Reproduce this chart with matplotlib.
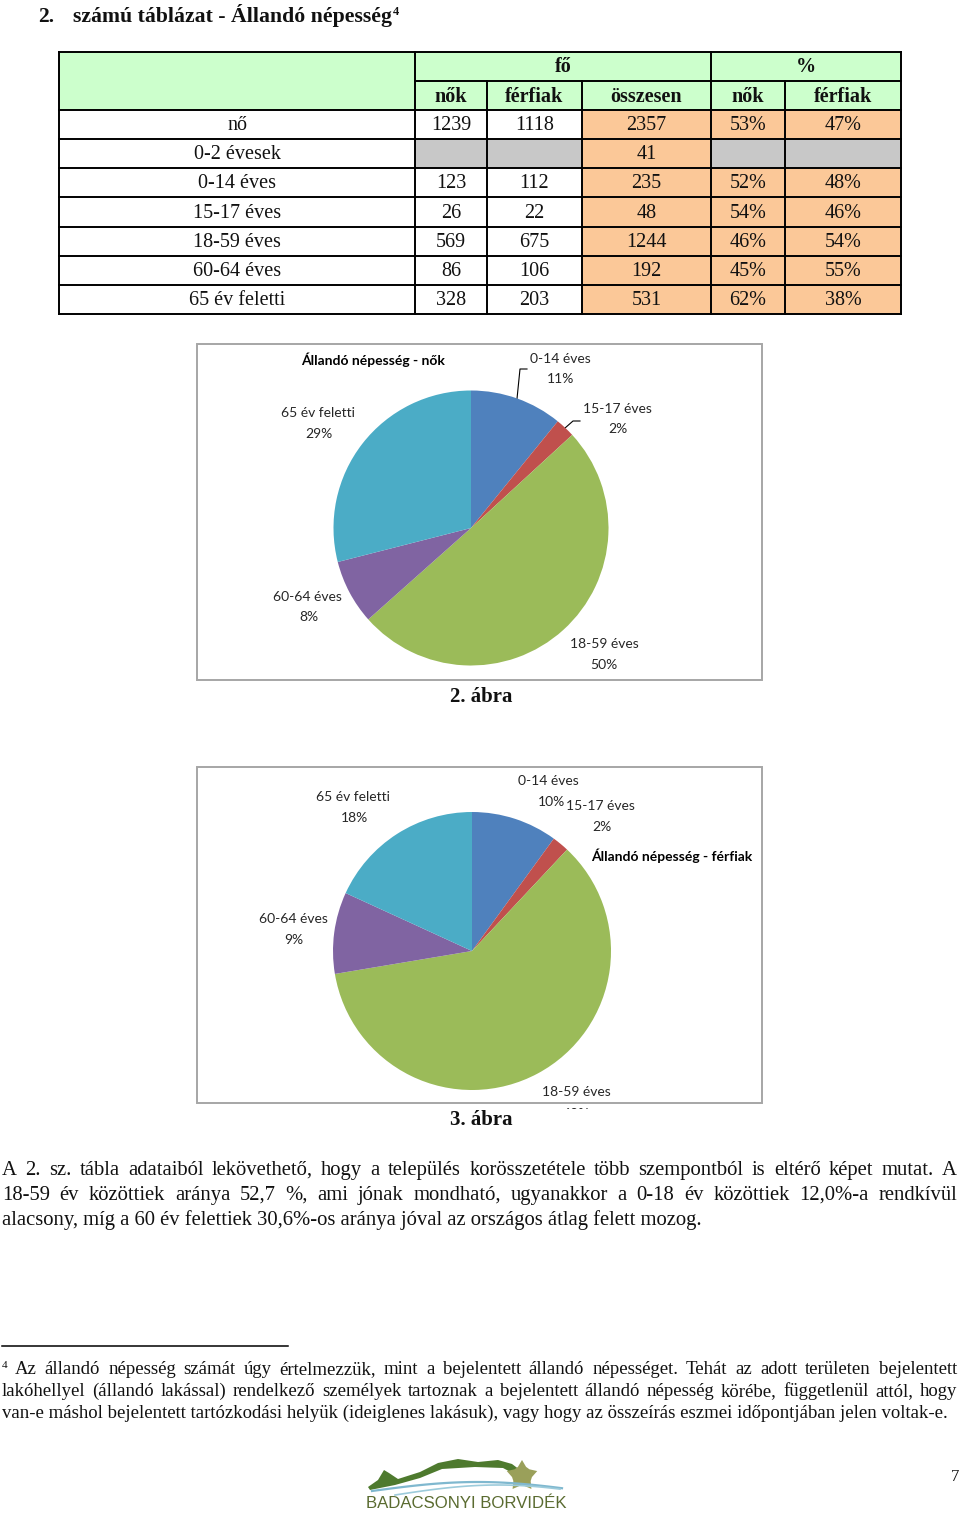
import matplotlib
matplotlib.use("Agg")
import matplotlib.pyplot as plt
from matplotlib.patches import Rectangle, Polygon
import numpy as np

# ---------------- data ----------------
categories = ['0-14 éves', '15-17 éves', '18-59 éves', '60-64 éves', '65 év feletti']
women = [123, 26, 569, 86, 328]
men = [112, 22, 675, 106, 203]
pie_colors = ['#4F81BD', '#C0504D', '#9BBB59', '#8064A2', '#4BACC6']

table_rows = ['nő', '0-2 évesek'] + categories
table_nok = [1239, None, 123, 26, 569, 86, 328]
table_ferfiak = [1118, None, 112, 22, 675, 106, 203]
table_osszesen = [2357, 41, 235, 48, 1244, 192, 531]
table_nok_pct = ['53%', None, '52%', '54%', '46%', '45%', '62%']
table_ferfiak_pct = ['47%', None, '48%', '46%', '54%', '55%', '38%']
col_headers = ['nők', 'férfiak', 'összesen', 'nők', 'férfiak']

title_num = '2.'
title_text = 'számú táblázat - Állandó népesség'
pie1_title = 'Állandó népesség - nők'
pie2_title = 'Állandó népesség - férfiak'
caption1 = '2. ábra'
caption2 = '3. ábra'

para_lines = [
    'A 2. sz. tábla adataiból lekövethető, hogy a település korösszetétele több szempontból is eltérő képet mutat. A',
    '18-59 év közöttiek aránya 52,7 %, ami jónak mondható, ugyanakkor a 0-18 év közöttiek 12,0%-a rendkívül',
    'alacsony, míg a 60 év felettiek 30,6%-os aránya jóval az országos átlag felett mozog.',
]
foot_lines = [
    'Az állandó népesség számát úgy értelmezzük, mint a bejelentett állandó népességet. Tehát az adott területen bejelentett',
    'lakóhellyel (állandó lakással) rendelkező személyek tartoznak a bejelentett állandó népesség körébe, függetlenül attól, hogy',
    'van-e máshol bejelentett tartózkodási helyük (ideiglenes lakásuk), vagy hogy az összeírás eszmei időpontjában jelen voltak-e.',
]

# ---------------- layout ----------------
W, H = 960, 1513
SERIF = ['Liberation Serif', 'DejaVu Serif']
SANS = ['Lato', 'DejaVu Sans']
TXT = '#111111'
LBL = '#262626'

fig = plt.figure(figsize=(9.6, 15.13), dpi=100)
fig.patch.set_facecolor('white')
page = fig.add_axes([0, 0, 1, 1])
page.set_xlim(0, W)
page.set_ylim(H, 0)
page.axis('off')
R = fig.canvas.get_renderer()


def measure(s, size, family, weight='normal'):
    t = page.text(0, 0, s, fontsize=size, family=family, weight=weight)
    w = t.get_window_extent(renderer=R).width
    t.remove()
    return w


# ---------------- title ----------------
page.text(38, 22, title_num, fontsize=15.5, family=SERIF, weight='bold', color=TXT, va='baseline')
tsize = 15.5 * 319 / measure(title_text, 15.5, SERIF, 'bold')
tt = page.text(73, 22, title_text, fontsize=tsize, family=SERIF, weight='bold', color=TXT, va='baseline')
tw = tt.get_window_extent(renderer=R).width
page.text(73 + tw + 1, 15, '4', fontsize=9, family=SERIF, weight='bold', color=TXT, va='baseline')

# ---------------- table ----------------
col_x = [59, 415, 487, 582, 711, 785, 901]
y_top, y_mid, y_head = 52, 81, 110
y_bot = 314
row_h = (y_bot - y_head) / len(table_rows)
GREEN = '#CCFFCC'
ORANGE = '#FBC898'
GREY = '#C8C8C8'

page.add_patch(Rectangle((col_x[0], y_top), col_x[-1] - col_x[0], y_head - y_top,
                         facecolor=GREEN, edgecolor='none'))
columns = [table_nok, table_ferfiak, table_osszesen, table_nok_pct, table_ferfiak_pct]
for r, name in enumerate(table_rows):
    y0 = y_head + r * row_h
    yc = y0 + row_h / 2 + 1
    for c, col in enumerate(columns):
        v = col[r]
        if c == 2:
            fc = ORANGE
        elif v is None:
            fc = GREY
        elif c >= 3:
            fc = ORANGE
        else:
            fc = 'white'
        page.add_patch(Rectangle((col_x[c + 1], y0), col_x[c + 2] - col_x[c + 1], row_h,
                                 facecolor=fc, edgecolor='none'))
        if v is not None:
            page.text((col_x[c + 1] + col_x[c + 2]) / 2, yc, str(v), fontsize=14.5,
                      family=SERIF, color=TXT, ha='center', va='center')
    page.text((col_x[0] + col_x[1]) / 2, yc, name, fontsize=14.5, family=SERIF,
              color=TXT, ha='center', va='center')

LW = 1.4
page.plot([col_x[0], col_x[-1]], [y_top, y_top], color='black', lw=LW)
page.plot([col_x[1], col_x[-1]], [y_mid, y_mid], color='black', lw=LW)
for r in range(len(table_rows) + 1):
    yy = y_head + r * row_h
    page.plot([col_x[0], col_x[-1]], [yy, yy], color='black', lw=LW)
for x in [col_x[0], col_x[1], col_x[4], col_x[6]]:
    page.plot([x, x], [y_top, y_bot], color='black', lw=LW)
for x in [col_x[2], col_x[3], col_x[5]]:
    page.plot([x, x], [y_mid, y_bot], color='black', lw=LW)

page.text((col_x[1] + col_x[4]) / 2, (y_top + y_mid) / 2 + 1, 'fő', fontsize=14.5,
          family=SERIF, weight='bold', color=TXT, ha='center', va='center')
page.text((col_x[4] + col_x[6]) / 2, (y_top + y_mid) / 2 + 1, '%', fontsize=14.5,
          family=SERIF, weight='bold', color=TXT, ha='center', va='center')
for c, hname in enumerate(col_headers):
    page.text((col_x[c + 1] + col_x[c + 2]) / 2, (y_mid + y_head) / 2 + 1, hname,
              fontsize=14.5, family=SERIF, weight='bold', color=TXT, ha='center', va='center')


# ---------------- pies ----------------
def draw_pie(values, cx, cy, r, box, title, title_pos, label_pos, clip_bottom=None,
             leaders=()):
    bx0, by0, bx1, by1 = box
    page.add_patch(Rectangle((bx0, by0), bx1 - bx0, by1 - by0, facecolor='white',
                             edgecolor='#A6A6A6', lw=1.4, zorder=1))
    ax = fig.add_axes([(cx - r) / W, 1 - (cy + r) / H, 2 * r / W, 2 * r / H])
    ax.pie(values, colors=pie_colors, startangle=90, counterclock=False,
           wedgeprops=dict(linewidth=0))
    ax.set_xlim(-1, 1)
    ax.set_ylim(-1, 1)
    ax.axis('off')
    total = sum(values)
    page.text(title_pos[0], title_pos[1], title, fontsize=10, family=SANS,
              weight='bold', color='black', ha='center', va='center', zorder=3)
    clip = Rectangle((bx0, by0), bx1 - bx0, (clip_bottom or by1) - by0,
                     transform=page.transData, facecolor='none', edgecolor='none')
    for i, (cat, v) in enumerate(zip(categories, values)):
        (nx, ny), (px, py) = label_pos[i]
        page.text(nx, ny, cat, fontsize=10, family=SANS, color=LBL,
                  ha='center', va='center', zorder=3)
        t = page.text(px, py, f'{round(100 * v / total)}%', fontsize=10, family=SANS,
                      color=LBL, ha='center', va='center', zorder=3, clip_on=True)
        t.set_clip_path(clip)
    cum = np.cumsum([0] + list(values)) / total
    for i, (ex, ey, hx) in leaders:
        mid = (cum[i] + cum[i + 1]) / 2
        ang = np.deg2rad(90 - 360 * mid)
        sx, sy = cx + r * np.cos(ang), cy - r * np.sin(ang)
        page.plot([sx, ex, hx], [sy, ey, ey], color='black', lw=0.8, zorder=3)


draw_pie(women, 471, 528, 137.5, (197, 344, 762, 680), pie1_title, (373, 360),
         [((560, 359), (561, 379)), ((617, 409), (618, 429)), ((604, 644), (604, 665)),
          ((307, 597), (309, 617)), ((318, 413), (319, 434))],
         leaders=[(0, (520, 369, 527)), (1, (573, 421, 580))])
page.text(481, 697, caption1, fontsize=15, family=SERIF, weight='bold', color=TXT,
          ha='center', va='center')

draw_pie(men, 472, 951, 139, (197, 767, 762, 1103), pie2_title, (672, 856),
         [((548, 781), (551, 802)), ((600, 806), (602, 827)), ((576, 1092), (576, 1114)),
          ((293, 919), (294, 940)), ((353, 797), (354, 818))],
         clip_bottom=1109)
page.text(481, 1120, caption2, fontsize=15, family=SERIF, weight='bold', color=TXT,
          ha='center', va='center')


# ---------------- paragraph & footnote ----------------
def justify_line(s, x0, x1, y, size, justify):
    if not justify:
        page.text(x0, y, s, fontsize=size, family=SERIF, color=TXT, va='baseline')
        return
    words = s.split(' ')
    arts = [page.text(0, y, w, fontsize=size, family=SERIF, color=TXT, va='baseline')
            for w in words]
    widths = [a.get_window_extent(renderer=R).width for a in arts]
    gap = (x1 - x0 - sum(widths)) / (len(words) - 1)
    x = x0
    for a, w in zip(arts, widths):
        a.set_x(x)
        x += w + gap


psize = 10 * 703 / measure(para_lines[2], 10, SERIF)
for i, ln in enumerate(para_lines):
    justify_line(ln, 2, 957, 1175 + 25 * i, psize, i < 2)

page.plot([2, 288], [1346, 1346], color='black', lw=1.1)
fsize = 10 * 948 / measure(foot_lines[2], 10, SERIF)
page.text(2, 1368, '4', fontsize=fsize * 0.6, family=SERIF, color=TXT, va='baseline')
justify_line(foot_lines[0], 15, 957, 1374, fsize, True)
justify_line(foot_lines[1], 2, 957, 1396, fsize, True)
justify_line(foot_lines[2], 2, 950, 1418, fsize, False)

# ---------------- logo & page number ----------------
hill = np.array([(368, 1487), (378, 1480), (384, 1470), (389, 1473), (398, 1479), (420, 1472),
                 (438, 1463), (458, 1459), (478, 1462), (498, 1460), (512, 1464), (528, 1476),
                 (520, 1477), (503, 1468), (475, 1467), (442, 1469), (420, 1478), (395, 1485),
                 (370, 1490)])
page.add_patch(Polygon(hill, closed=True, facecolor='#4E7A2E', edgecolor='none'))
tt_ = np.linspace(0, 1, 40)
page.plot(372 + 190 * tt_, 1491 - 9 * np.sin(np.pi * tt_ * 0.9), color='#7FB8CF', lw=1.6)
page.plot(395 + 165 * tt_, 1495 - 10 * np.sin(np.pi * tt_ * 0.8), color='#9CCBDB', lw=1.2)
ang = np.linspace(0, 2 * np.pi, 15, endpoint=False)
rad = np.where(np.arange(15) % 3 == 0, 16, 10)
leaf = np.column_stack([522 + rad * np.sin(ang), 1476 - rad * np.cos(ang)])
page.add_patch(Polygon(leaf, closed=True, facecolor='#9AA05A', edgecolor='none'))
logo_size = 12.5 * 201 / measure('BADACSONYI BORVIDÉK', 12.5, ['Liberation Sans Narrow', 'Liberation Sans'])
page.text(466, 1503, 'BADACSONYI BORVIDÉK', fontsize=logo_size,
          family=['Liberation Sans Narrow', 'Liberation Sans', 'DejaVu Sans'],
          color='#5A6B30', ha='center', va='center')
page.text(955, 1477, '7', fontsize=12, family=SERIF, color=TXT, ha='center', va='center')

fig.savefig('out.png', dpi=100, facecolor='white')
